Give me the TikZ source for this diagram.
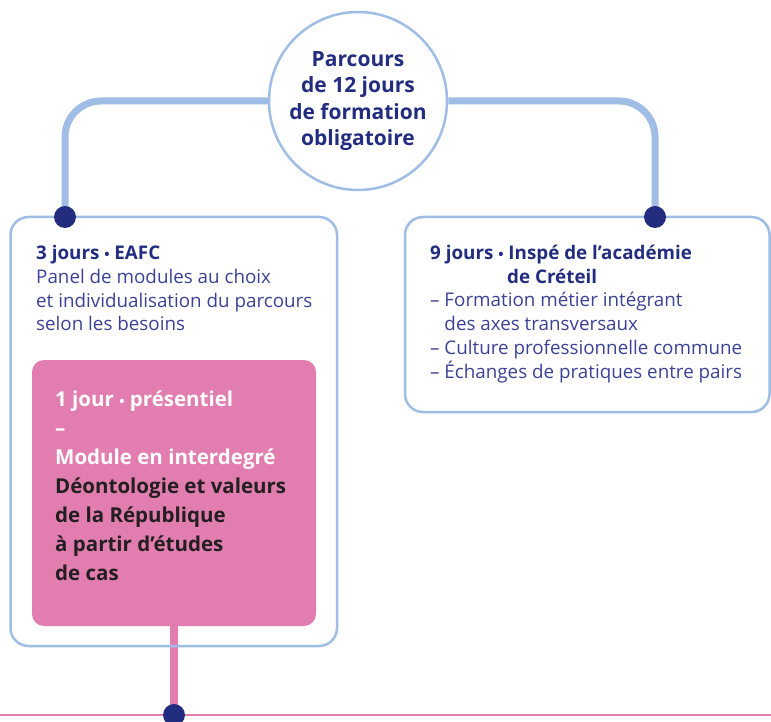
\documentclass[tikz,border=0pt]{standalone}
\usepackage{fontspec}
\setmainfont{Open Sans}
\usetikzlibrary{backgrounds}
\definecolor{lblue}{HTML}{9FBDE5}
\definecolor{navy}{HTML}{232D80}
\definecolor{txtblue}{HTML}{3B4296}
\definecolor{pinkc}{HTML}{E27DB0}
\definecolor{darktxt}{HTML}{231F20}
\newcommand{\sbul}{{\fontsize{14}{14}\selectfont •}}
\begin{document}
\begin{tikzpicture}[x=1pt,y=-1pt,
  conn/.style={draw=lblue, line width=7pt, rounded corners=36pt},
  dotn/.style={circle, fill=navy, minimum size=22pt, inner sep=0pt},
  boxn/.style={draw=lblue, line width=2.5pt, rounded corners=18pt, inner sep=0pt},
  pinkbox/.style={fill=pinkc, rounded corners=12pt, inner sep=0pt},
  bodytxt/.style={anchor=base west, align=left, inner sep=0pt, text=txtblue, font=\fontsize{18.8}{23.8}\selectfont},
  pinktxt/.style={anchor=base west, align=left, inner sep=0pt, text=white, font=\fontsize{20.5}{29}\selectfont\bfseries},
]
\useasboundingbox (0,0) rectangle (771,722);
% boxes
\node[boxn, minimum width=326.5pt, minimum height=429pt] (lbox) at (173.75,431.5) {};
\node[boxn, minimum width=364.5pt, minimum height=195pt] (rbox) at (587.25,314.5) {};
\node[pinkbox, minimum width=284pt, minimum height=266pt] (pbox) at (174,493) {};
% top circle
\node[circle, draw=lblue, line width=2.5pt, fill=white, minimum size=178pt, inner sep=0pt,
      align=center, text=navy, font=\fontsize{21}{26.5}\selectfont\bfseries] (top) at (358,101)
  {Parcours\\de 12 jours\\de formation\\obligatoire};
% dots
\node[dotn] (ldot) at (65,217) {};
\node[dotn] (rdot) at (655,217) {};
\node[dotn] (bdot) at (174,715) {};
\coordinate (bl) at (0,715);
\coordinate (br) at (771,715);
% connectors
\begin{pgfonlayer}{background}
\draw[conn] (top.west) -| (ldot.center);
\draw[conn] (top.east) -| (rdot.center);
\draw[draw=pinkc, line width=8pt] (pbox.south) -- (bdot.center);
\draw[draw=pinkc, line width=2pt] (bl) -- (br);
\end{pgfonlayer}
% texts
\node[bodytxt] (ltxt) at (36,330.9)
  {\textcolor{navy}{\bfseries 3 jours \sbul{} EAFC}\\
   Panel de modules au choix\\
   et individualisation du parcours\\
   selon les besoins};
\node[bodytxt] (rtxt) at (430,378.3)
  {\textcolor{navy}{\bfseries 9 jours \sbul{} Inspé de l’académie}\\
   \hspace*{77pt}\textcolor{navy}{\bfseries de Créteil}\\
   – Formation métier intégrant\\
   \phantom{– }des axes transversaux\\
   – Culture professionnelle commune\\
   – Échanges de pratiques entre pairs};
\node[pinktxt] (ptxt) at (55,580.7)
  {1 jour \sbul{} présentiel\\
   –\\
   Module en interdegré\\
   \textcolor{darktxt}{Déontologie et valeurs}\\
   \textcolor{darktxt}{de la République}\\
   \textcolor{darktxt}{à partir d’études}\\
   \textcolor{darktxt}{de cas}};
\end{tikzpicture}
\end{document}
